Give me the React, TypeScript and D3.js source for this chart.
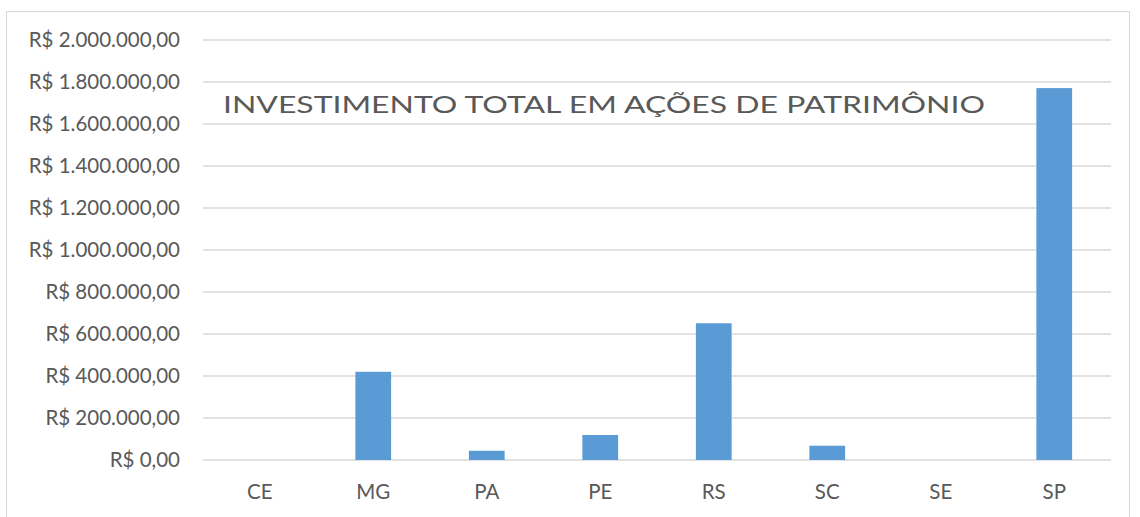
import * as d3 from 'd3'

// Investimento total em ações de patrimônio, por estado
const states = ['CE', 'MG', 'PA', 'PE', 'RS', 'SC', 'SE', 'SP']
const totals = [0, 420000, 44000, 119000, 651000, 68000, 0, 1771000]
const yTicks = [0, 200000, 400000, 600000, 800000, 1000000, 1200000, 1400000, 1600000, 1800000, 2000000]
const title = 'INVESTIMENTO TOTAL EM AÇÕES DE PATRIMÔNIO'

const W = 1140
const H = 517
const left = 203
const right = 1111
const top = 40
const bottom = 460
const font = 'Lato, "Open Sans", sans-serif'
const textColor = '#595959'

const brl = (v: number) =>
  'R$ ' +
  d3
    .format(',.2f')(v)
    .replace(/,/g, '#')
    .replace('.', ',')
    .replace(/#/g, '.')

export default function App() {
  const x = d3
    .scaleBand()
    .domain(states)
    .range([left, right])
    .paddingInner(0.685)
    .paddingOuter(0.3425)

  const y = d3.scaleLinear().domain([0, 2000000]).range([bottom, top])

  return (
    <svg
      width={W}
      height={H}
      style={{ position: 'absolute', left: 0, top: 0, background: '#fff' }}
    >
      <rect x={6.5} y={11.5} width={1123} height={520} fill="#fff" stroke="#d9d9d9" />

      {/* gridlines + y labels */}
      {yTicks.map(t => (
        <g key={t}>
          <line x1={left} x2={right} y1={y(t)} y2={y(t)} stroke="#d9d9d9" strokeWidth={1.3} />
          <text
            x={180}
            y={y(t)}
            dy="0.35em"
            textAnchor="end"
            fontFamily={font}
            fontSize={20.5}
            fill={textColor}
          >
            {brl(t)}
          </text>
        </g>
      ))}

      {/* bars */}
      {states.map((s, i) => (
        <rect
          key={s}
          x={x(s)}
          y={y(totals[i])}
          width={x.bandwidth()}
          height={bottom - y(totals[i])}
          fill="#5b9bd5"
        />
      ))}

      {/* x labels */}
      {states.map(s => (
        <text
          key={s}
          x={(x(s) ?? 0) + x.bandwidth() / 2}
          y={492}
          dy="0.35em"
          textAnchor="middle"
          fontFamily={font}
          fontSize={20.5}
          fill={textColor}
        >
          {s}
        </text>
      ))}

      <text
        x={223}
        y={113}
        fontFamily={font}
        fontSize={24}
        fill={textColor}
        textLength={762}
        lengthAdjust="spacingAndGlyphs"
      >
        {title}
      </text>
    </svg>
  )
}
